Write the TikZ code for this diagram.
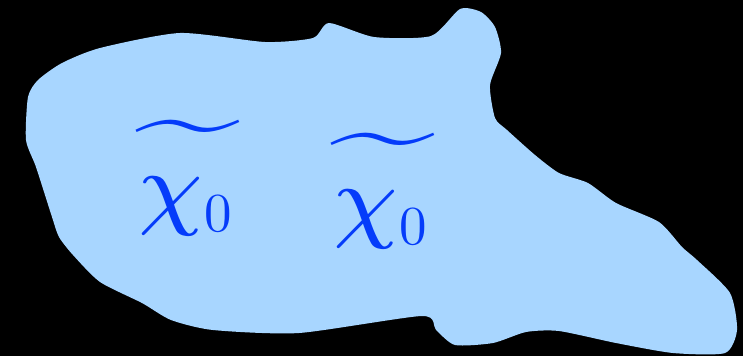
\documentclass[tikz,border=0pt]{standalone}
\usepackage{amsmath,amssymb}
\usepackage{xcolor}
\definecolor{blobblue}{RGB}{168,214,255}
\definecolor{labelblue}{RGB}{5,60,250}
\newcommand{\chinought}{\widetilde{\mkern3mu\rule{0pt}{0.72em}\chi_{\scalebox{0.41}{\normalsize$0$}}\mkern3mu}}

\begin{document}
\begin{tikzpicture}[
  x=1pt, y=-1pt,
  blob/.style = {fill=blobblue, draw=none},
  lbl/.style = {text=labelblue, inner sep=0pt, font=\scriptsize, scale=13.4, transform shape}
]
  \fill[black] (0,0) rectangle (743,356);
  \fill[blob] plot[smooth cycle, tension=0.4] coordinates {
    (38,80) (28,97) (26,140) (36,167) (52,217) (59,237) (73,255) (100,282)
    (142,303) (171,320) (213,330) (299,333) (422,316) (436,330) (455,345)
    (493,343) (526,332) (559,331) (616,343) (673,353) (725,353) (737,330)
    (730,293) (697,260) (682,247) (659,222) (616,203) (588,183) (559,173)
    (535,155) (507,130) (495,118) (490,85) (501,53) (495,27) (481,12)
    (460,9) (431,36) (374,37) (329,23) (313,38) (265,42) (180,33) (100,48)
    (62,63)};

  \node[lbl] (chia) at (188,178) {$\chinought$};
  \node[lbl] (chib) at (383,191) {$\chinought$};
\end{tikzpicture}
\end{document}
